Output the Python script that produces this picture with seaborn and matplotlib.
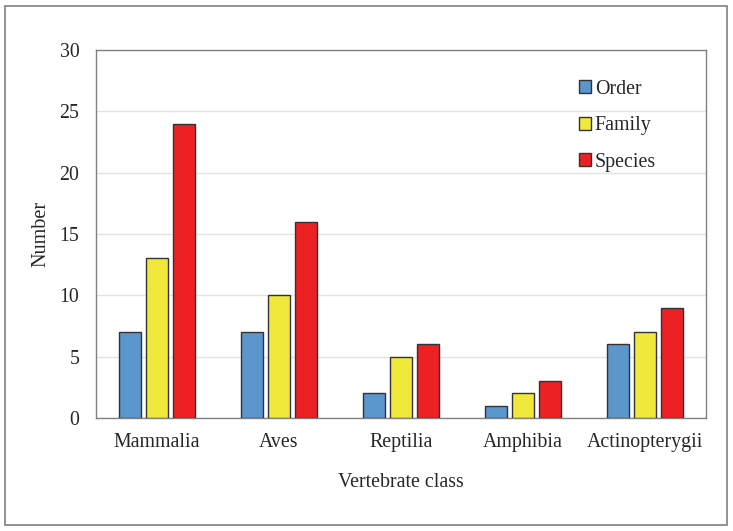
import pandas as pd
import seaborn as sns
import matplotlib.pyplot as plt
from matplotlib.patches import Rectangle

classes = ['Mammalia', 'Aves', 'Reptilia', 'Amphibia', 'Actinopterygii']
order = [7, 7, 2, 1, 6]
family = [13, 10, 5, 2, 7]
species = [24, 16, 6, 3, 9]
niveis = ['Order', 'Family', 'Species']
cores = ['#5b96cc', '#f1e83c', '#ed2024']

df = pd.DataFrame({'classe': classes * 3,
                   'nivel': ['Order'] * 5 + ['Family'] * 5 + ['Species'] * 5,
                   'numero': order + family + species})

sns.set_style('white')
plt.rcParams['font.family'] = ['Liberation Serif', 'DejaVu Serif']

fig = plt.figure(figsize=(7.33, 5.31), dpi=100)
ax = fig.add_axes([0.131, 0.213, 0.832, 0.693])

sns.barplot(data=df, x='classe', y='numero', hue='nivel', hue_order=niveis,
            palette=cores, width=0.66, gap=0.18, edgecolor='#333333', linewidth=1,
            saturation=1, ax=ax, zorder=3)

ax.set_ylim(0, 30)
ax.set_yticks(range(0, 31, 5))
ax.yaxis.grid(True, color='#e3e3e3', linewidth=1, zorder=0)
ax.set_axisbelow(True)
for s in ax.spines.values():
    s.set_color('#808080')
    s.set_linewidth(1)
ax.tick_params(axis='both', labelsize=14.3, length=0)
ax.tick_params(axis='y', pad=12)
ax.tick_params(axis='x', pad=11)
ax.set_xlabel('Vertebrate class', fontsize=14.3, labelpad=15)
ax.set_ylabel('Number', fontsize=14.5, labelpad=6.5)

ax.legend(loc='upper left', bbox_to_anchor=(0.792, 0.919), borderpad=0, borderaxespad=0,
          frameon=False, fontsize=14.3, handlelength=0.6, handleheight=0.6,
          handletextpad=0.2, labelspacing=0.88)

fig.patches.append(Rectangle((5 / 733, 6 / 531), 722 / 733, 519 / 531, transform=fig.transFigure,
                             fill=False, edgecolor='#808080', linewidth=1.2))

fig.savefig('out.png', dpi=100)
